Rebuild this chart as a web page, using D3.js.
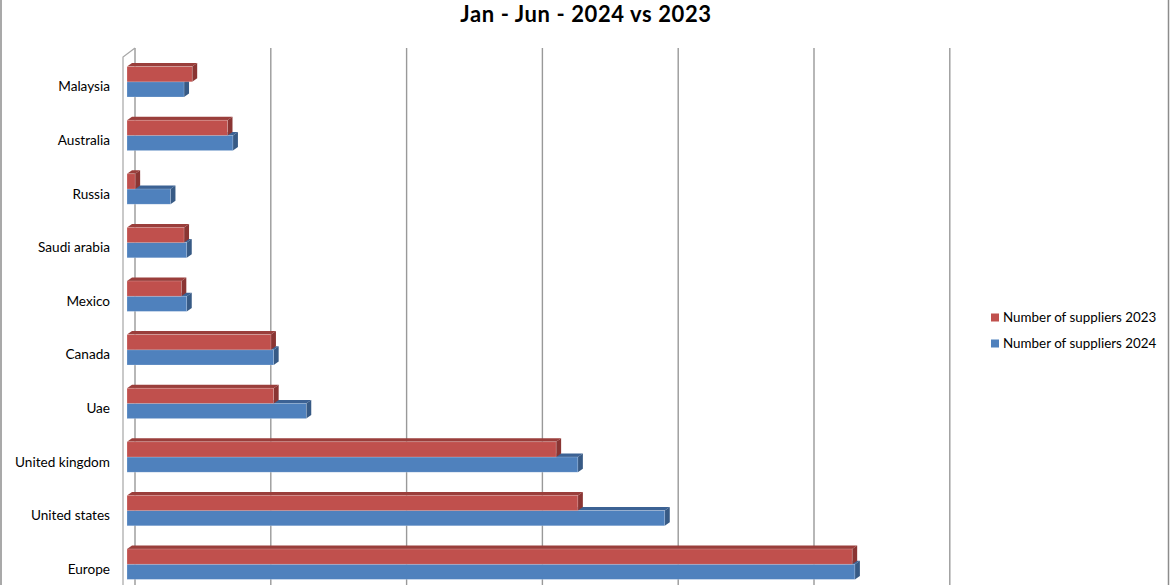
<!DOCTYPE html>
<html><head><meta charset="utf-8">
<script src="https://cdn.jsdelivr.net/npm/d3@7"></script>
<style>html,body{margin:0;padding:0;background:#fff;overflow:hidden}</style>
</head><body>
<svg id="chart" width="1170" height="585"></svg>
<script>
const title = "Jan - Jun - 2024 vs 2023";
const categories = ["Malaysia","Australia","Russia","Saudi arabia","Mexico","Canada","Uae","United kingdom","United states","Europe"];
const seriesNames = ["Number of suppliers 2023","Number of suppliers 2024"];
const values2023 = [24, 37, 3, 21, 20, 53, 54, 158, 166, 267];
const values2024 = [21, 39, 16, 22, 22, 54, 66, 166, 198, 268];
const gridTicks = [0, 50, 100, 150, 200, 250, 300];

const svg = d3.select("#chart");
const font = "Lato, 'Open Sans', sans-serif";

// frame borders
svg.append("line").attr("x1",1).attr("x2",1).attr("y1",0).attr("y2",585).attr("stroke","#8c8c8c").attr("stroke-width",1.5);
svg.append("line").attr("x1",1168.5).attr("x2",1168.5).attr("y1",0).attr("y2",585).attr("stroke","#8c8c8c").attr("stroke-width",1.5);

// title
svg.append("text").attr("x",586).attr("y",22).attr("text-anchor","middle")
  .attr("font-family",font).attr("font-weight","bold").attr("font-size",22)
  .attr("letter-spacing",0.6).attr("fill","#000").text(title);

const x = d3.scaleLinear().domain([0,300]).range([127, 127 + 6*135.8]);
const y = d3.scaleBand().domain(categories).range([55, 55 + 10*53.6]);
const backDx = 8, backTop = 48;
const dx = 5, dy = -3.5, barH = 15.2;

// gridlines on back wall
svg.append("g").selectAll("line").data(gridTicks).join("line")
  .attr("x1", d => x(d) + backDx).attr("x2", d => x(d) + backDx)
  .attr("y1", backTop).attr("y2", 600)
  .attr("stroke", "#999999").attr("stroke-width", 1.4);

// left wall edge
svg.append("path")
  .attr("d", `M${x(0)-4},600 L${x(0)-4},57 L${x(0)+backDx},${backTop}`)
  .attr("fill","none").attr("stroke","#a6a6a6").attr("stroke-width",1.2);

// category labels
svg.append("g").selectAll("text").data(categories).join("text")
  .attr("x", 110).attr("y", d => y(d) + y.bandwidth()/2 + 9.5)
  .attr("text-anchor","end").attr("font-family",font).attr("font-size",13.6).attr("fill","#000")
  .text(d => d);

const colors = {
  "2023": {front:"#C0504D", top:"#9A3E3B", side:"#8A3533"},
  "2024": {front:"#4F81BD", top:"#3C6294", side:"#375A85"}
};

function drawBar(g, x0, x1, yTop, c) {
  g.append("path").attr("d", `M${x0},${yTop} L${x0+dx},${yTop+dy} L${x1+dx},${yTop+dy} L${x1},${yTop} Z`)
    .attr("fill", c.top);
  g.append("path").attr("d", `M${x1},${yTop} L${x1+dx},${yTop+dy} L${x1+dx},${yTop+dy+barH} L${x1},${yTop+barH} Z`)
    .attr("fill", c.side);
  g.append("rect").attr("x", x0).attr("y", yTop).attr("width", x1 - x0).attr("height", barH)
    .attr("fill", c.front).attr("stroke","rgba(255,255,255,0.35)").attr("stroke-width",0.6);
}

const bars = svg.append("g");
categories.forEach((cat, i) => {
  const cy = y(cat) + y.bandwidth()/2;
  const g = bars.append("g");
  drawBar(g, x(0), x(values2024[i]), cy, colors["2024"]);
  drawBar(g, x(0), x(values2023[i]), cy - barH, colors["2023"]);
});

// legend
const legend = svg.append("g");
[["2023", seriesNames[0], 313.5], ["2024", seriesNames[1], 339.5]].forEach(([k, name, yy]) => {
  legend.append("rect").attr("x", 991).attr("y", yy).attr("width", 8).attr("height", 8).attr("fill", colors[k].front);
  legend.append("text").attr("x", 1003).attr("y", yy + 8.5).attr("font-family", font).attr("font-size", 13.4)
    .attr("fill", "#000").text(name);
});
</script>
</body></html>
